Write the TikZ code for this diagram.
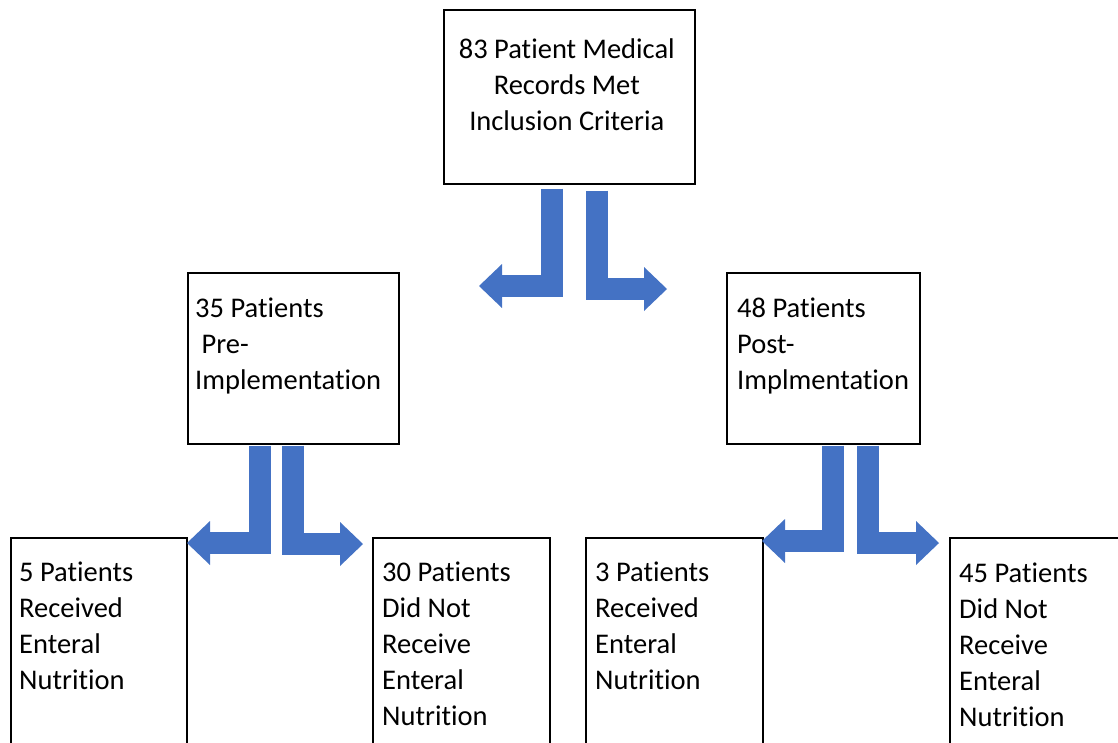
\documentclass[tikz,border=0pt]{standalone}
\usepackage{fontspec}
\setmainfont[Ligatures=NoCommon]{Carlito}
\usepackage{xcolor}
\usetikzlibrary{arrows.meta,calc,positioning}
\definecolor{flowblue}{HTML}{4472C4}
\begin{document}
\begin{tikzpicture}[x=1pt,y=-1pt,
  box/.style={draw=black,line width=1.6pt,inner sep=0pt,anchor=north west},
  txt/.style={font=\fontsize{28.5}{36}\selectfont,inner sep=0pt,align=left,anchor=base west},
  split/.style={draw=flowblue,line width=22pt,-{Triangle[length=23pt,width=44pt,line width=0pt]}}]
\useasboundingbox (0,0) rectangle (1118,742);
\clip (0,0) rectangle (1118,742);
% boxes
\node[box,minimum width=251pt,minimum height=174pt] (b83) at (443,9) {};
\node[box,minimum width=211pt,minimum height=171pt] (b35) at (187,272) {};
\node[box,minimum width=193pt,minimum height=171pt] (b48) at (726,272) {};
\node[box,minimum width=176pt,minimum height=300pt] (b5) at (10,537) {};
\node[box,minimum width=177pt,minimum height=300pt] (b30) at (372,537) {};
\node[box,minimum width=177pt,minimum height=300pt] (b3) at (585,537) {};
\node[box,minimum width=250pt,minimum height=300pt] (b45) at (949,537) {};
% labels (base = last line)
\node[txt,align=center,anchor=base] (t83) at ($(b83.north)+(-2.5,121)$) {83 Patient Medical\\Records Met\\Inclusion Criteria};
\node[txt] (t35) at ($(b35.north west)+(8,117)$) {35 Patients\\~Pre-\\Implementation};
\node[txt] (t48) at ($(b48.north west)+(11,117)$) {48 Patients\\Post-\\Implmentation};
\node[txt] (t5) at ($(b5.north west)+(9,152)$) {5 Patients\\Received\\Enteral\\Nutrition};
\node[txt] (t30) at ($(b30.north west)+(10,188)$) {30 Patients\\Did Not\\Receive\\Enteral\\Nutrition};
\node[txt] (t3) at ($(b3.north west)+(10,152)$) {3 Patients\\Received\\Enteral\\Nutrition};
\node[txt] (t45) at ($(b45.north west)+(10,189)$) {45 Patients\\Did Not\\Receive\\Enteral\\Nutrition};
% split arrows
\coordinate (tip35) at (479,286); \coordinate (tip48) at (667,289);
\coordinate (tip5) at (187,543); \coordinate (tip30) at (363,544);
\coordinate (tip3) at (762,541); \coordinate (tip45) at (939,543);
\draw[split] ($(b83.south)+(-17.5,4)$) |- (tip35);
\draw[split] ($(b83.south)+(27.5,6)$) |- (tip48);
\draw[split] ($(b35.south)+(-33.5,1)$) |- (tip5);
\draw[split] ($(b35.south)+(-0.5,1)$) |- (tip30);
\draw[split] ($(b48.south)+(10,1)$) |- (tip3);
\draw[split] ($(b48.south)+(44.5,1)$) |- (tip45);
\end{tikzpicture}
\end{document}
